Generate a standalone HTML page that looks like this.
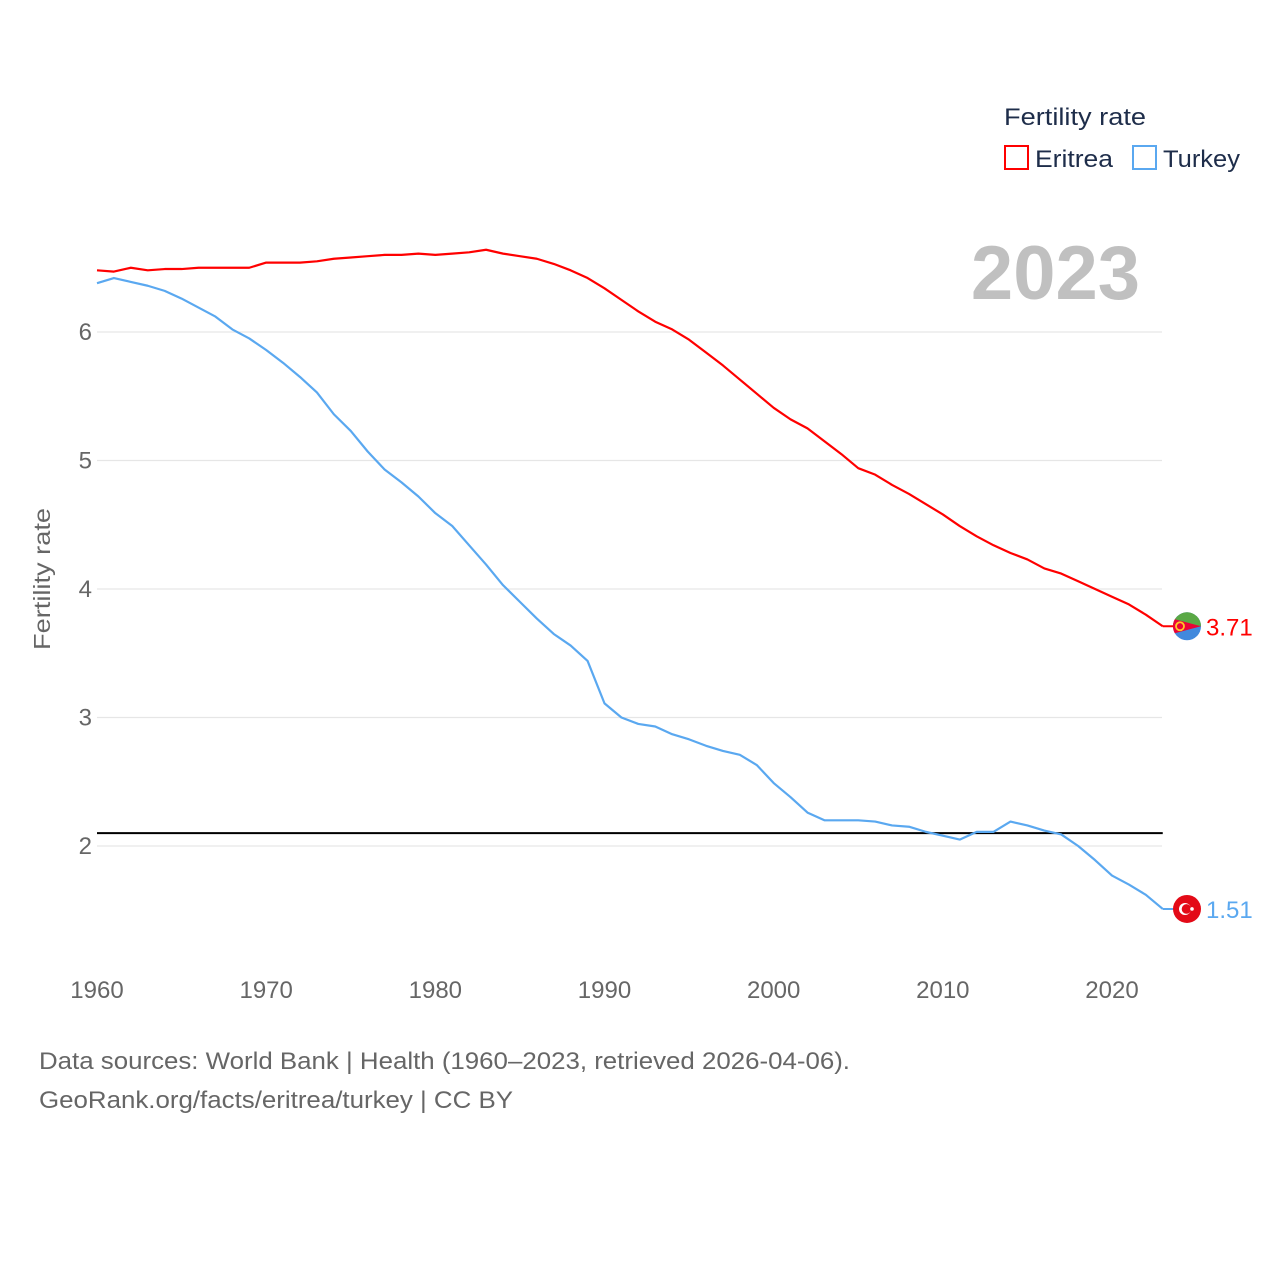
<!DOCTYPE html>
<html><head><meta charset="utf-8"><style>
html,body{margin:0;padding:0;background:#fff;width:1280px;height:1280px;overflow:hidden}
svg text{font-family:"Liberation Sans",sans-serif}
</style></head><body>
<svg id="chart" width="1280" height="1280" viewBox="0 0 1280 1280" xmlns="http://www.w3.org/2000/svg">
<g id="grid"></g>
<g id="yticks"></g>
<g id="xticks"></g>
<text transform="translate(50,579) rotate(-90)" text-anchor="middle" font-size="23" fill="#666" textLength="142" lengthAdjust="spacingAndGlyphs">Fertility rate</text>
<text x="1140" y="299" text-anchor="end" font-size="76" font-weight="bold" fill="#c0c0c0">2023</text>
<text x="1004" y="125" font-size="24" fill="#1e2d4a" textLength="142" lengthAdjust="spacingAndGlyphs">Fertility rate</text>
<g>
<rect x="1005" y="146" width="23" height="23" fill="none" stroke="#ff0000" stroke-width="2"/>
<text x="1035" y="167" font-size="24" fill="#1e2d4a" textLength="78" lengthAdjust="spacingAndGlyphs">Eritrea</text></g>
<g>
<rect x="1133" y="146" width="23" height="23" fill="none" stroke="#5aa8f0" stroke-width="2"/>
<text x="1163" y="167" font-size="24" fill="#1e2d4a" textLength="77" lengthAdjust="spacingAndGlyphs">Turkey</text></g>
<g id="series"></g>
<text x="39" y="1069" font-size="24" fill="#666" textLength="811" lengthAdjust="spacingAndGlyphs">Data sources: World Bank | Health (1960–2023, retrieved 2026-04-06).</text>
<text x="39" y="1108" font-size="24" fill="#666" textLength="474" lengthAdjust="spacingAndGlyphs">GeoRank.org/facts/eritrea/turkey | CC BY</text>
</svg>
<script>
const years=[];for(let y=1960;y<=2023;y++)years.push(y);
const eritrea=[6.48,6.47,6.50,6.48,6.49,6.49,6.50,6.50,6.50,6.50,6.54,6.54,6.54,6.55,6.57,6.58,6.59,6.60,6.60,6.61,6.60,6.61,6.62,6.64,6.61,6.59,6.57,6.53,6.48,6.42,6.34,6.25,6.16,6.08,6.02,5.94,5.84,5.74,5.63,5.52,5.41,5.32,5.25,5.15,5.05,4.94,4.89,4.81,4.74,4.66,4.58,4.49,4.41,4.34,4.28,4.23,4.16,4.12,4.06,4.00,3.94,3.88,3.80,3.71];
const turkey=[6.38,6.42,6.39,6.36,6.32,6.26,6.19,6.12,6.02,5.95,5.86,5.76,5.65,5.53,5.36,5.23,5.07,4.93,4.83,4.72,4.59,4.49,4.34,4.19,4.03,3.90,3.77,3.65,3.56,3.44,3.11,3.00,2.95,2.93,2.87,2.83,2.78,2.74,2.71,2.63,2.49,2.38,2.26,2.20,2.20,2.20,2.19,2.16,2.15,2.11,2.08,2.05,2.11,2.11,2.19,2.16,2.12,2.09,2.00,1.89,1.77,1.70,1.62,1.51];
const yTicks=[2,3,4,5,6];
const xTicks=[1960,1970,1980,1990,2000,2010,2020];
const replacement=2.1;
const NS="http://www.w3.org/2000/svg";
const X=y=>97+(y-1960)*(1112-97)/60;
const Y=v=>846-(v-2)*128.5;
function mk(t,a,p){const e=document.createElementNS(NS,t);for(const k in a)e.setAttribute(k,a[k]);p.appendChild(e);return e;}
const grid=document.getElementById('grid'),yt=document.getElementById('yticks'),xt=document.getElementById('xticks'),ser=document.getElementById('series');
yTicks.forEach(v=>{
const l=mk('line',{x1:97,x2:1162,y1:Y(v),y2:Y(v),stroke:'#e6e6e6','stroke-width':1.3},grid);


const t=mk('text',{x:92,y:Y(v)+8,'text-anchor':'end','font-size':24,fill:'#666'},yt);t.textContent=v;


});
xTicks.forEach(v=>{
const t=mk('text',{x:X(v),y:998,'text-anchor':'middle','font-size':24,fill:'#666'},xt);t.textContent=v;


});
const rl=mk('line',{x1:X(1960),x2:X(2023),y1:Y(replacement),y2:Y(replacement),stroke:'#000','stroke-width':2},ser);


function line(data,color,name){
const p=mk('polyline',{points:data.map((v,i)=>X(years[i])+','+Y(v)).join(' '),fill:'none',stroke:color,'stroke-width':2.2,'stroke-linejoin':'round'},ser);


}
line(turkey,'#5aa8f0','turkey-line');
line(eritrea,'#ff0000','eritrea-line');
function endLabel(data,color,name,flag){
const v=data[data.length-1],cy=Y(v),cx=1187;
mk('line',{x1:X(2023),x2:cx,y1:cy,y2:cy,stroke:color,'stroke-width':2},ser);
const g=mk('g',{},ser);


flag(g,cx,cy);
const t=mk('text',{x:1206,y:cy+9,'font-size':24,fill:color},ser);t.textContent=v.toFixed(2);


}
endLabel(eritrea,'#ff0000','eritrea',(g,cx,cy)=>{
const r=14;
mk('circle',{cx:cx,cy:cy,r:r,fill:'#4189dd'},g);
mk('path',{d:`M${cx-r},${cy} A${r},${r} 0 0 1 ${cx+r},${cy} Z`,fill:'#5aa845'},g);
mk('path',{d:`M${cx-r*0.87},${cy-r*0.5} L${cx+r},${cy} L${cx-r*0.87},${cy+r*0.5} A${r},${r} 0 0 1 ${cx-r*0.87},${cy-r*0.5} Z`,fill:'#ea0437'},g);
mk('circle',{cx:cx-7,cy:cy,r:4,fill:'none',stroke:'#ffc726','stroke-width':1.8},g);
});
endLabel(turkey,'#5aa8f0','turkey',(g,cx,cy)=>{
mk('circle',{cx:cx,cy:cy,r:14,fill:'#e30a17'},g);
mk('circle',{cx:cx-2,cy:cy,r:6,fill:'#fff'},g);
mk('circle',{cx:cx-0.5,cy:cy,r:4.8,fill:'#e30a17'},g);
mk('circle',{cx:cx+5,cy:cy,r:1.8,fill:'#fff'},g);
});
</script>
</body></html>
